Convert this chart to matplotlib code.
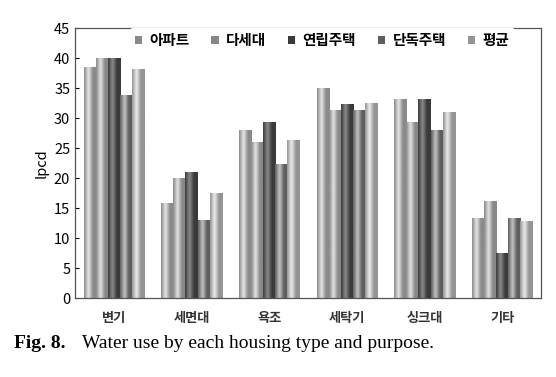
import numpy as np
import matplotlib
matplotlib.use("Agg")
import matplotlib.pyplot as plt
from matplotlib.colors import LinearSegmentedColormap
from matplotlib.patches import Patch

plt.rcParams["font.family"] = ["Noto Sans CJK KR", "DejaVu Sans"]

categories = ["변기", "세면대", "욕조", "세탁기", "싱크대", "기타"]
series_names = ["아파트", "다세대", "연립주택", "단독주택", "평균"]
apt = [38.5, 15.8, 28.0, 35.0, 33.1, 13.3]
multi = [40.0, 20.0, 26.0, 31.3, 29.2, 16.1]
row_house = [40.0, 20.9, 29.3, 32.2, 33.1, 7.4]
detached = [33.8, 13.0, 22.2, 31.3, 28.0, 13.3]
average = [38.1, 17.4, 26.3, 32.4, 30.9, 12.7]
series = [apt, multi, row_house, detached, average]

# grey tones (edge, highlight) for each series, cylinder look
tones = [("#8a8a8a", "#e8e8e8"), ("#888888", "#e4e4e4"),
         ("#3a3a3a", "#8c8c8c"), ("#5e5e5e", "#c4c4c4"),
         ("#949494", "#eeeeee")]

fig = plt.figure(figsize=(5.56, 3.77), dpi=100)
ax = fig.add_axes([0.135, 0.2095, 0.838, 0.716])

n = len(series)
group_w = 0.78
bar_w = group_w / n
x = np.arange(len(categories))
prof = np.linspace(0, 1, 40)[None, :]
for i, vals in enumerate(series):
    edge, hi = tones[i]
    cmap = LinearSegmentedColormap.from_list(
        "c%d" % i, [(0, edge), (0.35, hi), (0.7, edge), (1, edge)])
    for xi, v in zip(x, vals):
        x0 = xi - group_w / 2 + i * bar_w
        ax.imshow(prof, extent=[x0, x0 + bar_w, 0, v], cmap=cmap,
                  aspect="auto", interpolation="bicubic", zorder=2)

ax.set_xlim(-0.5, len(categories) - 0.5)
ax.set_ylim(0, 45)
ax.set_yticks(np.arange(0, 46, 5))
ax.set_xticks(x)
ax.set_xticklabels(categories, fontsize=9.5, fontweight="bold", color="#333333")
ax.tick_params(axis="x", length=0, pad=9)
ax.tick_params(axis="y", labelsize=10.5, length=3, direction="in")
ax.set_ylabel("lpcd", fontsize=10.5, labelpad=4)
for s in ax.spines.values():
    s.set_color("#555555")
    s.set_linewidth(0.9)

handles = [Patch(facecolor=tones[i][0], edgecolor="none") for i in range(n)]
leg = ax.legend(handles, series_names, ncol=5, loc="center",
                bbox_to_anchor=(0.53, 0.955), frameon=True, fontsize=10.5,
                handlelength=0.5, handleheight=0.5, handletextpad=0.5,
                columnspacing=1.5, borderpad=0.3)
leg.get_frame().set_facecolor("white")
leg.get_frame().set_edgecolor("white")
leg.get_frame().set_alpha(1)
for t in leg.get_texts():
    t.set_fontweight("bold")

fig.text(0.025, 0.088, "Fig. 8.", fontsize=14, fontweight="bold",
         family="Liberation Serif", va="center")
fig.text(0.147, 0.088, "Water use by each housing type and purpose.",
         fontsize=14, family="Liberation Serif", va="center")

fig.savefig("out.png", dpi=100)
